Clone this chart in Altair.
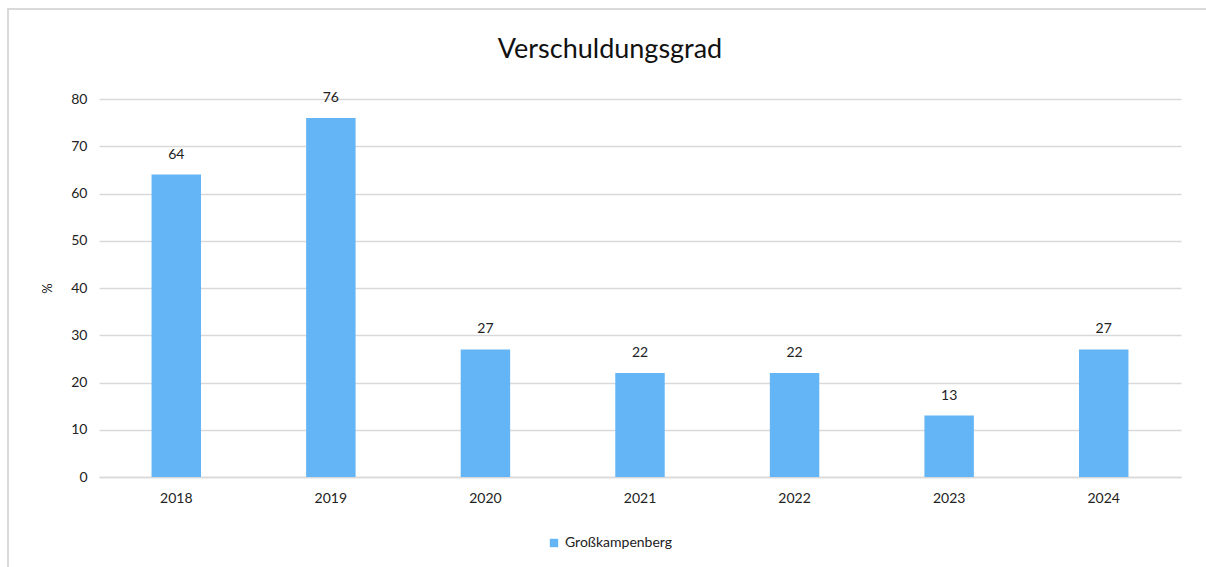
import altair as alt
import pandas as pd

years = ["2018", "2019", "2020", "2021", "2022", "2023", "2024"]
values = [64, 76, 27, 22, 22, 13, 27]
series = "Großkampenberg"
title_text = "Verschuldungsgrad"

df = pd.DataFrame({"Jahr": years, "Wert": values, "Serie": [series] * len(years)})

FONT = "Lato"
W, H = 1082, 378

base = alt.Chart(df)

x_enc = alt.X("Jahr:N", sort=years, title=None,
              scale=alt.Scale(paddingInner=0.68, paddingOuter=0.34),
              axis=alt.Axis(labelAngle=0, ticks=False, domain=True, domainColor="#d9d9d9",
                            domainWidth=1.5, labelPadding=14, labelFontSize=14,
                            labelColor="#222222", labelFont=FONT))
y_enc = alt.Y("Wert:Q", title="%",
              scale=alt.Scale(domain=[0, 80]),
              axis=alt.Axis(values=[0, 10, 20, 30, 40, 50, 60, 70, 80], ticks=False, domain=False,
                            gridColor="#d9d9d9", gridWidth=1.5, labelPadding=12,
                            labelFontSize=14, labelColor="#222222", labelFont=FONT,
                            titleFont=FONT, titleFontSize=13, titleFontWeight="normal",
                            titleColor="#222222", titlePadding=16))

bars = base.mark_bar(color="#64B5F6").encode(
    x=x_enc,
    y=y_enc,
    color=alt.Color("Serie:N", scale=alt.Scale(range=["#64B5F6"]),
                    legend=alt.Legend(title=None, orient="none", legendX=448, legendY=437,
                                      symbolType="square", symbolSize=70, symbolStrokeWidth=0,
                                      labelFont=FONT, labelFontSize=14, labelColor="#222222",
                                      symbolOpacity=1)),
)

labels = base.mark_text(font=FONT, fontSize=14, color="#222222", baseline="middle", dy=-20).encode(
    x=alt.X("Jahr:N", sort=years),
    y=alt.Y("Wert:Q"),
    text=alt.Text("Wert:Q"),
)

border = alt.Chart(pd.DataFrame({"a": [0]})).mark_rect(
    fill=None, stroke="#d9d9d9", strokeWidth=2
).encode(
    x=alt.value(-91), x2=alt.value(W + 40), y=alt.value(-90), y2=alt.value(H + 110)
)

title = alt.Chart(pd.DataFrame({"t": [title_text]})).mark_text(
    font=FONT, fontSize=27, color="#111111", align="center", baseline="middle"
).encode(
    text="t:N", x=alt.value(511), y=alt.value(-49)
)

chart = alt.layer(border, bars, labels, title).properties(
    width=W, height=H,
    autosize=alt.AutoSizeParams(type="none"),
    padding={"left": 99, "top": 99, "right": 25, "bottom": 90},
).configure(background="white").configure_view(stroke=None)

chart.save("out.html", embed_options={"renderer": "svg", "actions": False})
